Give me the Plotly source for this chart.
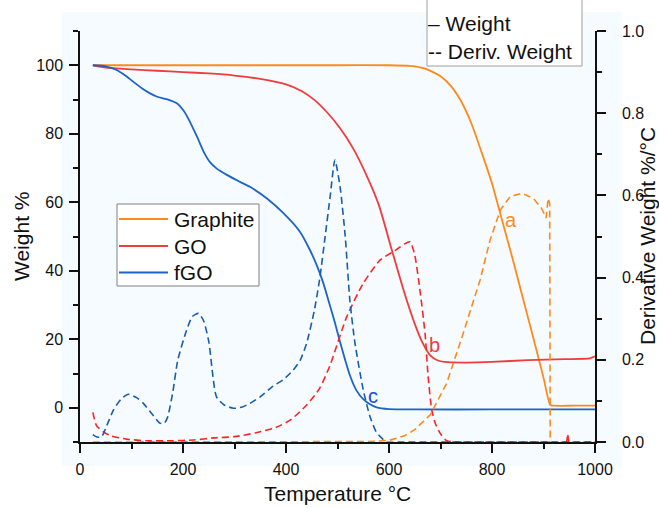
import plotly.graph_objects as go

# ---- TGA data (temperature in °C) ----
temp_graphite = [25, 100, 200, 300, 400, 500, 600, 640, 670, 700, 720, 740, 760, 780,
                 800, 820, 840, 860, 880, 900, 913, 920, 960, 1000]
weight_graphite = [100, 100, 100, 100, 100, 100, 100, 99.8, 99.0, 96.8, 94.0, 89.5, 83.0, 74.5,
                   65.5, 54.5, 43.5, 32.0, 20.5, 8.8, 0.8, 0.6, 0.6, 0.6]

temp_go = [25, 50, 100, 150, 200, 250, 300, 350, 400, 430, 455, 480, 505, 530, 555, 580, 605,
           630, 650, 665, 680, 695, 715, 750, 800, 870, 940, 990, 1000]
weight_go = [100, 99.3, 98.8, 98.4, 98.0, 97.6, 97.0, 96.0, 94.4, 92.5, 89.9, 86.2, 81.6, 75.8,
             68.3, 59.3, 46.3, 33.5, 24.5, 19.0, 15.3, 13.8, 13.3, 13.2, 13.4, 13.9, 14.2, 14.4,
             15.0]

temp_fgo = [25, 50, 70, 90, 105, 120, 136, 150, 168, 188, 200, 210, 227, 240, 252, 265, 285,
            310, 330, 363, 395, 427, 445, 460, 472, 485, 495, 505, 515, 524, 537, 550, 563,
            576, 600, 650, 800, 1000]
weight_fgo = [100, 99.7, 98.7, 96.8, 95.0, 93.3, 91.8, 90.8, 90.1, 88.9, 87.0, 84.5, 79.2, 74.8,
              71.8, 69.9, 68.0, 66.0, 64.5, 61.1, 56.8, 51.4, 46.5, 41.5, 36.6, 30.0, 24.8, 19.2,
              13.9, 9.5, 5.0, 2.5, 1.0, 0.1, -0.4, -0.5, -0.5, -0.5]

# ---- derivative weight (%/°C) ----
dtemp_graphite = [25, 100, 200, 300, 400, 500, 560, 600, 630, 650, 680, 712, 744, 777, 796,
                  816, 835, 858, 880, 896, 905, 909, 912, 913, 920, 1000]
deriv_graphite = [0, 0, 0, 0, 0, 0, 0.001, 0.004, 0.015, 0.03, 0.066, 0.143, 0.264, 0.395, 0.49,
                  0.564, 0.597, 0.605, 0.593, 0.569, 0.545, 0.593, 0.58, 0.0, 0, 0]

dtemp_go = [25, 32, 45, 60, 90, 130, 180, 220, 260, 300, 340, 380, 410, 440, 465, 485, 518,
            550, 583, 612, 630, 641, 650, 660, 670, 676, 683, 690, 700, 712, 740, 800, 900,
            944, 947, 950, 1000]
deriv_go = [0.072, 0.04, 0.025, 0.015, 0.007, 0.003, 0.003, 0.005, 0.010, 0.013, 0.022, 0.035,
            0.055, 0.09, 0.13, 0.185, 0.305, 0.386, 0.443, 0.466, 0.482, 0.487, 0.455, 0.37,
            0.264, 0.159, 0.078, 0.045, 0.02, 0.003, 0, 0, 0, 0, 0.02, 0, 0]

dtemp_fgo = [25, 33, 42, 52, 65, 80, 94, 110, 123, 140, 155, 163, 170, 180, 190, 207, 218, 230,
             240, 250, 265, 280, 298, 315, 330, 350, 375, 395, 414, 428, 440, 455, 466, 476,
             486, 495, 505, 515, 524, 534, 550, 563, 575, 583, 595, 620, 1000]
deriv_fgo = [0.018, 0.012, 0.013, 0.04, 0.078, 0.105, 0.116, 0.108, 0.094, 0.068, 0.046, 0.045,
             0.06, 0.12, 0.2, 0.272, 0.305, 0.313, 0.295, 0.245, 0.11, 0.09, 0.082, 0.085, 0.094,
             0.11, 0.136, 0.152, 0.175, 0.2, 0.24, 0.32, 0.402, 0.5, 0.6, 0.686, 0.621, 0.5,
             0.345, 0.24, 0.127, 0.062, 0.025, 0.013, 0.0, 0.0, 0.0]

series_names = ["Graphite", "GO", "fGO"]
peak_labels = ["a", "b", "c"]
label_temp = [837, 689, 569]
label_weight = [54.8, 18.3, 3.4]

ORANGE = "#FF8A1C"
RED = "#F03C3C"
RED_D = "#FF2424"
BLUE = "#1E64C8"
BLUE_D = "#1A5DAA"
LABEL_BLUE = "#2348E0"
FONT = "Liberation Sans, Arial, sans-serif"

W, H = 659, 508
L, R, T, B = 80, 595, 31, 442   # plot-area edges in pixels


def px(x):
    return (x - L) / (R - L)


def py(y):
    return (B - y) / (B - T)


fig = go.Figure()

dash = "7px,4px"
fig.add_trace(go.Scatter(x=dtemp_graphite, y=deriv_graphite, yaxis="y2", mode="lines",
                         line=dict(color=ORANGE, width=1.6, dash=dash), showlegend=False))
fig.add_trace(go.Scatter(x=dtemp_go, y=deriv_go, yaxis="y2", mode="lines",
                         line=dict(color=RED_D, width=1.6, dash=dash, shape="spline", smoothing=0.6),
                         showlegend=False))
fig.add_trace(go.Scatter(x=dtemp_fgo, y=deriv_fgo, yaxis="y2", mode="lines",
                         line=dict(color=BLUE_D, width=1.6, dash=dash, shape="spline", smoothing=0.6),
                         showlegend=False))

for xs, ys, c in [(temp_graphite, weight_graphite, ORANGE),
                  (temp_go, weight_go, RED),
                  (temp_fgo, weight_fgo, BLUE)]:
    fig.add_trace(go.Scatter(x=xs, y=ys, mode="lines",
                             line=dict(color=c, width=1.8, shape="spline", smoothing=0.6),
                             showlegend=False))

axis_common = dict(showline=True, linecolor="#111", linewidth=1.5, ticks="outside",
                   ticklen=9, tickwidth=1.5, tickcolor="#111", showgrid=False, zeroline=False,
                   tickfont=dict(family=FONT, size=16, color="#111"), layer="below traces")

fig.update_layout(
    width=W, height=H,
    margin=dict(l=L, r=W - R, t=T, b=H - B),
    paper_bgcolor="white",
    plot_bgcolor="rgba(0,0,0,0)",
    xaxis=dict(range=[0, 1000], tick0=0, dtick=200, ticklabelstandoff=3,
               minor=dict(dtick=100, ticklen=5, tickwidth=1.5, ticks="outside", tickcolor="#111"),
               **axis_common),
    yaxis=dict(range=[-10, 110], tick0=0, dtick=20, ticklabelstandoff=3,
               minor=dict(dtick=10, ticklen=5, tickwidth=1.5, ticks="outside", tickcolor="#111"),
               **axis_common),
    yaxis2=dict(range=[0, 1], tick0=0, dtick=0.2, tickformat=".1f", overlaying="y", side="right",
                ticklabelstandoff=13,
                minor=dict(dtick=0.1, ticklen=5, tickwidth=1.5, ticks="outside", tickcolor="#111"),
                **axis_common),
    showlegend=False,
)

shapes = [
    # faint backdrop behind the chart body
    dict(type="rect", xref="paper", yref="paper", x0=px(62), x1=px(622), y0=py(466), y1=py(12),
         fillcolor="#f5fbfe", line=dict(width=0), layer="below"),
    # series key box
    dict(type="rect", xref="paper", yref="paper", x0=px(117), x1=px(259), y0=py(286), y1=py(204),
         fillcolor="white", line=dict(color="#808080", width=1)),
    # line-style key box
    dict(type="rect", xref="paper", yref="paper", x0=px(427), x1=px(582), y0=py(66), y1=py(-4),
         fillcolor="white", line=dict(color="#a0a0a0", width=1)),
]

annotations = []
key_rows = [219, 246, 272.5]
for name, c, yrow in zip(series_names, [ORANGE, RED, BLUE], key_rows):
    shapes.append(dict(type="line", xref="paper", yref="paper", x0=px(119), x1=px(168),
                       y0=py(yrow), y1=py(yrow), line=dict(color=c, width=1.8)))
    annotations.append(dict(xref="paper", yref="paper", x=px(172), y=py(yrow), text=name,
                            showarrow=False, xanchor="left", yanchor="middle",
                            font=dict(family=FONT, size=21, color="#111")))

for txt, yrow in [("– Weight", 24), ("-- Deriv. Weight", 51)]:
    annotations.append(dict(xref="paper", yref="paper", x=px(426), y=py(yrow), text=txt,
                            showarrow=False, xanchor="left", yanchor="middle",
                            font=dict(family=FONT, size=21, color="#111")))

for lab, tx, wy, c in zip(peak_labels, label_temp, label_weight, [ORANGE, RED, LABEL_BLUE]):
    annotations.append(dict(x=tx, y=wy, xref="x", yref="y", text=lab, showarrow=False,
                            xanchor="center", yanchor="middle",
                            font=dict(family=FONT, size=20, color=c)))

# axis titles
title_font = dict(family=FONT, size=21, color="#111")
annotations += [
    dict(xref="paper", yref="paper", x=px(337), y=py(493), text="Temperature °C", showarrow=False,
         xanchor="center", yanchor="middle", font=title_font),
    dict(xref="paper", yref="paper", x=px(22), y=py(236), text="Weight %", textangle=-90,
         xanchor="center", yanchor="middle", showarrow=False, font=title_font),
    dict(xref="paper", yref="paper", x=px(648), y=py(236), text="Derivative Weight %/°C",
         textangle=-90, xanchor="center", yanchor="middle", showarrow=False, font=title_font),
]

fig.update_layout(shapes=shapes, annotations=annotations)
fig.write_html("out.html")
